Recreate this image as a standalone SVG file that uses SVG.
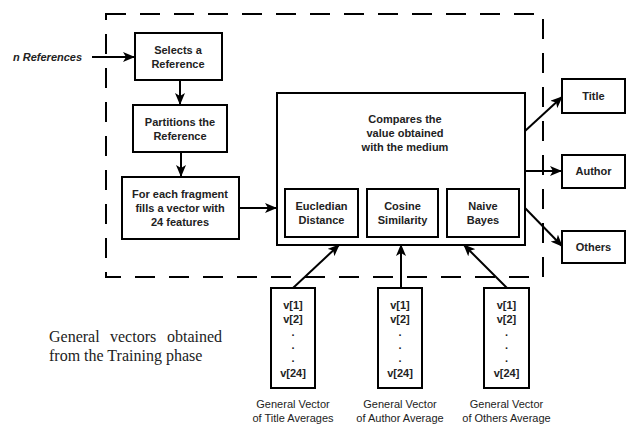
<svg xmlns="http://www.w3.org/2000/svg" width="626" height="424" viewBox="0 0 626 424">
<defs>
<marker id="ah" viewBox="0 0 12 10" refX="11" refY="5" markerWidth="12" markerHeight="10" markerUnits="userSpaceOnUse" orient="auto">
<path d="M0,0 L12,5 L0,10 L3,5 Z" fill="#000"/>
</marker>
</defs>
<style>
.box{fill:#fff;stroke:#000;stroke-width:2}
.b{font-family:"Liberation Sans",Arial,sans-serif;font-size:11px;font-weight:bold;text-anchor:middle;fill:#222}
.n{font-family:"Liberation Sans",Arial,sans-serif;font-size:11px;text-anchor:middle;fill:#222}
.s{font-family:"Liberation Serif","Times New Roman",serif;font-size:16px;fill:#222}
.c{stroke:#000;stroke-width:2;fill:none;marker-end:url(#ah)}
.dash{fill:none;stroke:#000;stroke-width:2;stroke-dasharray:20 14}
</style>
<rect width="626" height="424" fill="#fff"/>
<g id="boundary">
<rect class="dash" x="106" y="14" width="437" height="263"/>
</g>
<g id="input"><text x="13" y="61" style="font-family:'Liberation Sans',Arial,sans-serif;font-size:11px;font-weight:bold;font-style:italic;fill:#222">n References</text></g>
<g id="select"><rect class="box" x="135" y="33" width="87" height="47"/><text class="b" x="178" y="54">Selects a</text><text class="b" x="178" y="68">Reference</text></g>
<g id="partition"><rect class="box" x="133" y="105" width="94" height="47"/><text class="b" x="180" y="126">Partitions the</text><text class="b" x="180" y="140">Reference</text></g>
<g id="fragment"><rect class="box" x="122" y="177" width="117" height="62"/><text class="b" x="180" y="198">For each fragment</text><text class="b" x="180" y="212">fills a vector with</text><text class="b" x="180" y="226">24 features</text></g>
<g id="compare"><rect class="box" x="277" y="93" width="248" height="152"/><text class="b" x="405" y="123">Compares the</text><text class="b" x="405" y="137">value obtained</text><text class="b" x="405" y="151">with the medium</text></g>
<g id="euclid"><rect class="box" x="285" y="189" width="73" height="48"/><text class="b" x="321.5" y="210">Eucledian</text><text class="b" x="321.5" y="224">Distance</text></g>
<g id="cosine"><rect class="box" x="367" y="189" width="71" height="48"/><text class="b" x="402.5" y="210">Cosine</text><text class="b" x="402.5" y="224">Similarity</text></g>
<g id="bayes"><rect class="box" x="447" y="189" width="72" height="48"/><text class="b" x="483" y="210">Naive</text><text class="b" x="483" y="224">Bayes</text></g>
<g id="title"><rect class="box" x="562" y="79" width="63" height="34"/><text class="b" x="593.5" y="100">Title</text></g>
<g id="author"><rect class="box" x="562" y="155" width="63" height="33"/><text class="b" x="593.5" y="175">Author</text></g>
<g id="others"><rect class="box" x="562" y="231" width="63" height="32"/><text class="b" x="593.5" y="251">Others</text></g>
<g id="vtitle"><rect class="box" x="271" y="288" width="44" height="100"/><text class="b" x="293" y="309">v[1]</text><text class="b" x="293" y="323">v[2]</text><text class="b" x="293" y="336">.</text><text class="b" x="293" y="349">.</text><text class="b" x="293" y="362">.</text><text class="b" x="293" y="377">v[24]</text><text class="n" x="293" y="408">General Vector</text><text class="n" x="293" y="422">of Title Averages</text></g>
<g id="vauthor"><rect class="box" x="378" y="288" width="44" height="100"/><text class="b" x="400" y="309">v[1]</text><text class="b" x="400" y="323">v[2]</text><text class="b" x="400" y="336">.</text><text class="b" x="400" y="349">.</text><text class="b" x="400" y="362">.</text><text class="b" x="400" y="377">v[24]</text><text class="n" x="400" y="408">General Vector</text><text class="n" x="400" y="422">of Author Average</text></g>
<g id="vothers"><rect class="box" x="484" y="288" width="45" height="100"/><text class="b" x="506.5" y="309">v[1]</text><text class="b" x="506.5" y="323">v[2]</text><text class="b" x="506.5" y="336">.</text><text class="b" x="506.5" y="349">.</text><text class="b" x="506.5" y="362">.</text><text class="b" x="506.5" y="377">v[24]</text><text class="n" x="506.5" y="408">General Vector</text><text class="n" x="506.5" y="422">of Others Average</text></g>
<g id="note"><text class="s" y="342"><tspan x="49">General</tspan><tspan x="110">vectors</tspan><tspan x="167">obtained</tspan></text><text class="s" x="49" y="361">from the Training phase</text></g>
<g id="connectors">
<line class="c" x1="92" y1="57" x2="134" y2="57"/>
<line class="c" x1="180" y1="80" x2="180" y2="104"/>
<line class="c" x1="181" y1="152" x2="181" y2="176"/>
<line class="c" x1="239" y1="208" x2="276" y2="208"/>
<line class="c" x1="525" y1="131" x2="562" y2="97"/>
<line class="c" x1="525" y1="171" x2="561" y2="171"/>
<line class="c" x1="525" y1="208" x2="562" y2="246"/>
<line class="c" x1="293" y1="288" x2="339" y2="245"/>
<line class="c" x1="401" y1="288" x2="401" y2="245"/>
<line class="c" x1="507" y1="288" x2="464" y2="245"/>
</g>
</svg>
